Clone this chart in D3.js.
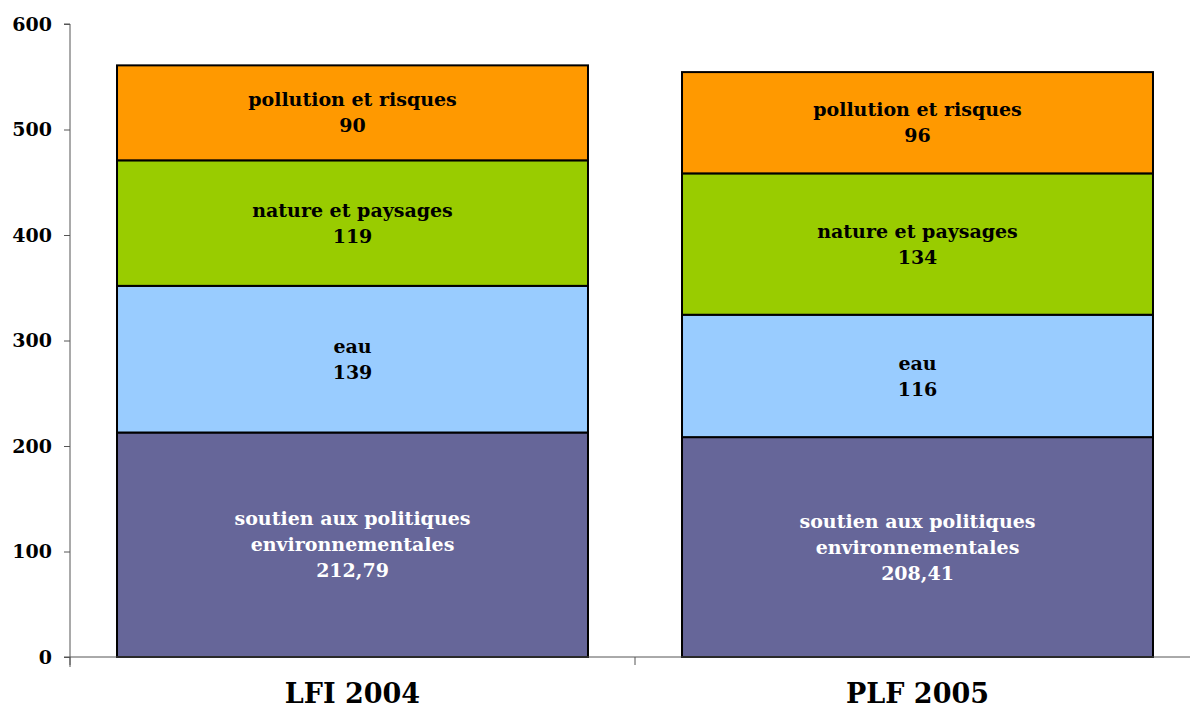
<!DOCTYPE html>
<html>
<head>
<meta charset="utf-8">
<script src="https://cdn.jsdelivr.net/npm/d3@7"></script>
<style>
  body { margin: 0; background: #fff; }
  svg text { font-family: "DejaVu Serif", Georgia, serif; font-weight: bold; }
</style>
</head>
<body>
<div id="chart"></div>
<script>
const categories = ['LFI 2004', 'PLF 2005'];
const segments = ['soutien aux politiques environnementales', 'eau', 'nature et paysages', 'pollution et risques'];
const segmentLines = [['soutien aux politiques', 'environnementales'], ['eau'], ['nature et paysages'], ['pollution et risques']];
const valueLabels = [['212,79', '139', '119', '90'], ['208,41', '116', '134', '96']];
const values2004 = [212.79, 139, 119, 90];
const values2005 = [208.41, 116, 134, 96];
const colors = ['#666699', '#99ccff', '#99cc00', '#ff9900'];
const textColors = ['#ffffff', '#000000', '#000000', '#000000'];
const yTicks = [0, 100, 200, 300, 400, 500, 600];

const width = 1190, height = 711;
const margin = {top: 24, right: -10, bottom: 54, left: 70};

const svg = d3.select('#chart').append('svg')
  .attr('width', width)
  .attr('height', height);

const x = d3.scaleBand()
  .domain(categories)
  .range([margin.left, width - margin.right])
  .paddingInner(0.1664)
  .paddingOuter(0.0832);

const y = d3.scaleLinear()
  .domain([0, 600])
  .range([height - margin.bottom, margin.top]);

const allValues = [values2004, values2005];
const rows = categories.map((c, i) => {
  const r = {cat: c};
  segments.forEach((s, j) => { r[s] = allValues[i][j]; });
  return r;
});
const stacked = d3.stack().keys(segments)(rows);

// bars
stacked.forEach((layer, j) => {
  svg.append('g')
    .selectAll('rect')
    .data(layer)
    .join('rect')
      .attr('x', d => x(d.data.cat))
      .attr('y', d => y(d[1]))
      .attr('width', x.bandwidth())
      .attr('height', d => y(d[0]) - y(d[1]))
      .attr('fill', colors[j])
      .attr('stroke', '#000')
      .attr('stroke-width', 2);
});

// segment labels
stacked.forEach((layer, j) => {
  layer.forEach((d, i) => {
    const lines = segmentLines[j].concat([valueLabels[i][j]]);
    const cx = x(d.data.cat) + x.bandwidth() / 2;
    const cy = (y(d[0]) + y(d[1])) / 2;
    const lh = 26;
    const t = svg.append('text')
      .attr('text-anchor', 'middle')
      .attr('fill', textColors[j])
      .style('font-size', '19px');
    lines.forEach((ln, k) => {
      t.append('tspan')
        .attr('x', cx)
        .attr('y', cy + (k - (lines.length - 1) / 2) * lh)
        .attr('dy', '0.35em')
        .text(ln);
    });
  });
});

// y axis
const yAxis = svg.append('g')
  .attr('transform', `translate(${margin.left},0)`)
  .call(d3.axisLeft(y).tickValues(yTicks).tickSize(6).tickPadding(12));
yAxis.select('.domain').attr('stroke', '#555').attr('d', `M-6,${y(600)}H0V${y(0) + 10}`);
yAxis.selectAll('.tick line').attr('stroke', '#555');
yAxis.selectAll('text').style('font-size', '19px').attr('fill', '#000')
  .style('font-family', '"DejaVu Serif", Georgia, serif').style('font-weight', 'bold');

// x axis
const xAxis = svg.append('g')
  .attr('transform', `translate(0,${y(0)})`);
xAxis.append('line')
  .attr('x1', margin.left - 6).attr('x2', width)
  .attr('stroke', '#555');
const step = x.step();
const boundaries = [margin.left, margin.left + step, margin.left + 2 * step];
xAxis.selectAll('.xt')
  .data(boundaries)
  .join('line')
    .attr('x1', d => d).attr('x2', d => d)
    .attr('y1', 0).attr('y2', 8)
    .attr('stroke', '#555');

svg.append('g')
  .selectAll('text')
  .data(categories)
  .join('text')
    .attr('x', d => x(d) + x.bandwidth() / 2)
    .attr('y', height - 8)
    .attr('text-anchor', 'middle')
    .style('font-size', '27px')
    .text(d => d);
</script>
</body>
</html>
